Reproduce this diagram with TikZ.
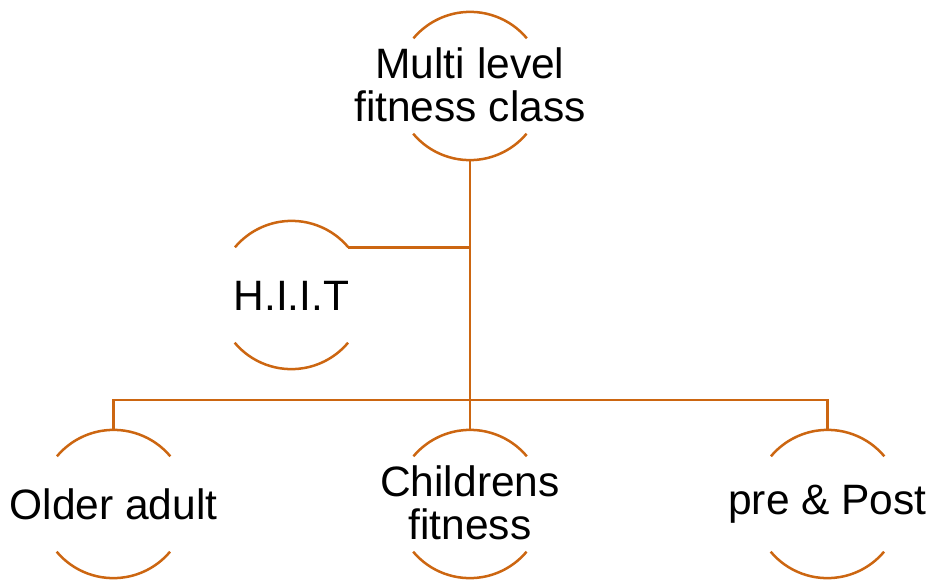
\documentclass[tikz,border=0pt]{standalone}
\usepackage{fontspec}
\setmainfont{Liberation Sans}
\definecolor{linec}{RGB}{204,102,17}
\begin{document}
\begin{tikzpicture}[x=1pt,y=-1pt,
  ring/.style={circle,minimum size=148pt,inner sep=0pt,draw=none},
  lbl/.style={font=\fontsize{42.5}{43}\selectfont,align=center,inner sep=0pt,text=black},
  conn/.style={draw=linec,line width=2.5pt},
  arcline/.style={draw=linec,line width=2.5pt}]
\useasboundingbox (0,0) rectangle (932,579);
% ring nodes
\node[ring] (top) at (470,86) {};
\node[ring] (hiit) at (291.5,295) {};
\node[ring] (older) at (113.5,504) {};
\node[ring] (child) at (470,504) {};
\node[ring] (post) at (827.5,504) {};
% labels
\node[lbl] (topt) at (470,85) {Multi level\\fitness class};
\node[lbl] (hiitt) at (291.5,296) {H.I.I.T};
\node[lbl] (oldert) at (113.5,504) {Older adult};
\node[lbl] (childt) at (470,503) {Childrens\\fitness};
\node[lbl] (postt) at (827.5,504) {pre \& Post};
% arcs (top and bottom parts of each ring)
\foreach \n in {top,hiit,older,child,post}{
  \draw[arcline] (\n.40) arc[start angle=40,end angle=140,radius=74pt];
  \draw[arcline] (\n.220) arc[start angle=220,end angle=320,radius=74pt];
}
% connectors
\coordinate (bus) at (470,400);
\draw[conn] (top.south) -- (child.north);
\draw[conn] (hiit.40) -- (top.south |- hiit.40);
\draw[conn] (older.north) |- (bus) -| (post.north);
\end{tikzpicture}
\end{document}
